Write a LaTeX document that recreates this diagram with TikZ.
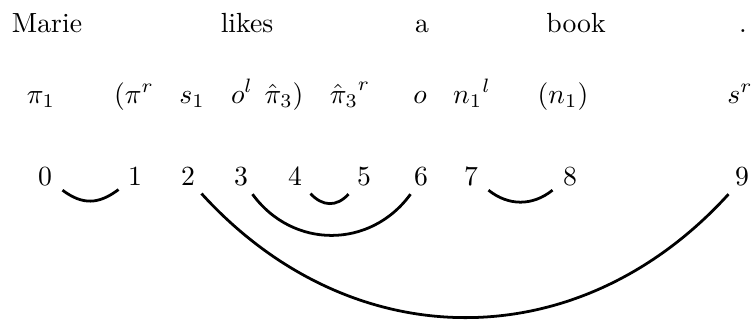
\documentclass[tikz,border=0pt]{standalone}
\begin{document}
\begin{tikzpicture}[x=0.361pt,y=-0.361pt,
  lbl/.style={anchor=base,inner sep=0pt},
  cup/.style={line width=1pt}]
\useasboundingbox (0,0) rectangle (752,320);
% words
\node[lbl] (wMarie) at (47,32) {Marie};
\node[lbl] (wlikes) at (247,32) {likes};
\node[lbl] (wa) at (422,32) {a};
\node[lbl] (wbook) at (576,32) {book};
\node[lbl] (wdot) at (743,32) {.};
% types
\node[lbl] (t0) at (41,103) {$\pi_1$};
\node[lbl] (t1) at (134,103) {$(\pi^r$};
\node[lbl] (t2) at (192,103) {$s_1$};
\node[lbl] (t3) at (242,103) {$o^l$};
\node[lbl] (t4) at (284,103) {$\hat{\pi}_3)$};
\node[lbl] (t5) at (350,103) {${\hat{\pi}_3\kern0pt}^r$};
\node[lbl] (t6) at (420,103) {$o$};
\node[lbl] (t7) at (472,103) {${n_1}^l$};
\node[lbl] (t8) at (563,103) {$(n_1)$};
\node[lbl] (t9) at (740,103) {$s^r$};
% indices
\node[lbl] (n0) at (45,185) {0};
\node[lbl] (n1) at (135,185) {1};
\node[lbl] (n2) at (188,185) {2};
\node[lbl] (n3) at (241,185) {3};
\node[lbl] (n4) at (295,185) {4};
\node[lbl] (n5) at (364,185) {5};
\node[lbl] (n6) at (421,185) {6};
\node[lbl] (n7) at (471,185) {7};
\node[lbl] (n8) at (570,185) {8};
\node[lbl] (n9) at (742,185) {9};
% cups
\draw[cup] ([shift={(10,4)}]n0.south east) .. controls +(20,15) and +(-20,15) .. ([shift={(-9,4)}]n1.south west);
\draw[cup] ([shift={(8,8)}]n4.south east) .. controls +(12,13) and +(-12,13) .. ([shift={(-8,8)}]n5.south west);
\draw[cup] ([shift={(4,8)}]n3.south east) .. controls +(40,55) and +(-40,55) .. ([shift={(-3,8)}]n6.south west);
\draw[cup] ([shift={(10,4)}]n7.south east) .. controls +(20,16) and +(-20,16) .. ([shift={(-10,4)}]n8.south west);
\draw[cup] ([shift={(6,8)}]n2.south east) .. controls +(150,165) and +(-150,165) .. ([shift={(-6,8)}]n9.south west);
\end{tikzpicture}
\end{document}
